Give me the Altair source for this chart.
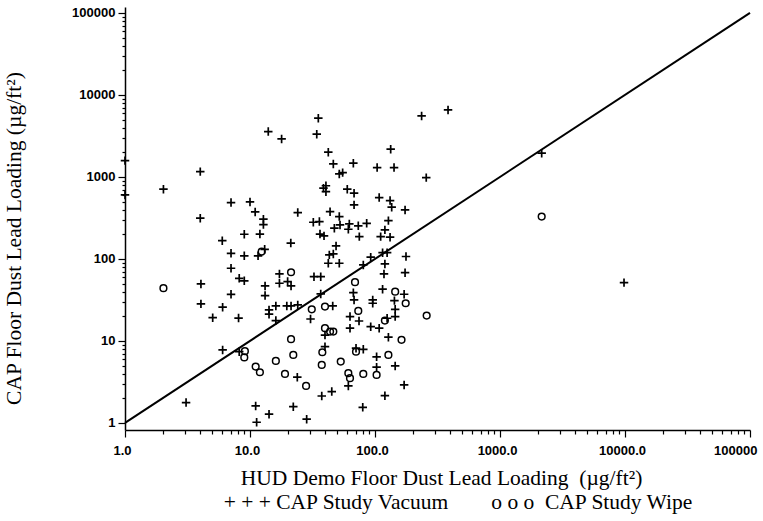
import altair as alt
import pandas as pd

# CAP Study Vacuum (x = HUD Demo loading, y = CAP loading), ug/ft^2
vac_x = [1.0, 1.0, 2.03, 4.0, 4.0, 7.05, 10.0, 11.0, 6.0, 9.0, 12.0, 7.05, 9.0, 14.0, 17.9,
         12.8, 12.8, 24.1, 21.2, 13.1, 11.6, 7.05, 8.2, 9.0, 4.05, 7.05, 4.05, 6.04, 5.03, 8.1,
         17.2, 17.2, 20.0, 21.3, 13.2, 13.2, 14.2, 14.2, 16.1, 19.7, 21.3, 24.1, 16.1, 6.04, 8.2,
         23.9, 11.1, 14.2, 22.2, 11.3, 3.08,
         35.2, 34.2, 42.3, 133.5, 46.4, 67.1, 104, 142, 51.8, 55.1, 38.7, 40.5, 40.5, 60, 68, 68,
         108, 132, 136, 174, 43.7, 51.8, 128, 32.1, 35.9, 52.5, 62.3, 73.5, 85.8, 47.3, 61.2, 120,
         36.3, 39.1, 74.9, 111, 132, 48.8, 43.1, 46.4, 92.4, 115, 125, 177, 236, 384, 257,
         42.3, 51.8, 80.6, 120, 118, 174, 32.5, 36.8, 36.8, 67.1, 68, 115, 171, 143, 95.9, 95.9,
         30.5, 45.9, 63.1, 63.1, 74.5, 92.4, 108, 125, 145, 145, 128, 39.8, 39.8, 70.5, 80.6, 103,
         103, 145, 61.2, 171, 37.5, 45.1, 120, 79.8, 28.4, 2155, 9820]
vac_y = [1580, 603, 708, 1160, 314, 486, 495, 374, 167, 200, 201, 117, 109, 3570, 2905,
         305, 262, 367, 156, 131, 109, 77, 58, 54, 49.6, 37, 28.3, 25.8, 19.2, 19.0,
         65.6, 50.5, 52.9, 46.9, 46.9, 35.7, 23.9, 21.2, 26.7, 26.7, 26.7, 27.5, 17.7, 7.77, 7.4,
         3.61, 1.61, 1.28, 1.58, 1.02, 1.77,
         5200, 3320, 2000, 2180, 1440, 1470, 1300, 1300, 1088, 1128, 730, 780, 660, 708, 633, 456,
         560, 514, 427, 396, 377, 328, 293, 280, 285, 260, 267, 253, 272, 237, 230, 226,
         201, 191, 187, 187, 184, 144, 112, 115, 105, 119, 119, 107, 5540, 6560, 980,
         88.6, 88.6, 84.5, 86.9, 65.6, 68, 60.8, 60.8, 37.4, 38.8, 31.6, 42.7, 37.1, 31, 31.6, 28.8,
         18.5, 26.7, 19.8, 14.3, 17.5, 14.9, 14.3, 18.9, 19.8, 24.3, 11.1, 11.8, 8.5, 8.15, 7.9, 6.4,
         4.78, 4.96, 2.83, 2.91, 2.13, 2.41, 2.15, 1.55, 1.11, 1945, 51.4]

# CAP Study Wipe
wipe_x = [2.03, 12.4, 21.3, 9.1, 9.0, 11.1, 12.0, 16.1, 21.3, 22.2, 19.05, 28.1, 69.2, 145, 176,
          31.2, 39.8, 73.5, 120, 163, 39.8, 43.7, 46.4, 37.9, 37.5, 53.2, 70.5, 128, 61.2, 63.1,
          80.6, 103, 259, 2155]
wipe_y = [44, 123, 68.8, 7.5, 6.3, 4.86, 4.15, 5.7, 10.5, 6.75, 3.96, 2.83, 52, 39.9, 28.8,
          24.3, 26.2, 23.2, 17.7, 10.3, 14.3, 13, 13, 7.28, 5.1, 5.6, 7.4, 6.75, 4.04, 3.51,
          3.96, 3.85, 20.4, 328]

line_x = [1, 100000]
line_y = [1, 100000]

decades = [1, 10, 100, 1000, 10000, 100000]
tick_vals = [m * d for d in decades[:-1] for m in range(1, 10)] + [100000]

legend_text = ["+ + + CAP Study Vacuum\u00a0\u00a0\u00a0\u00a0\u00a0\u00a0\u00a0\u00a0o o o\u00a0\u00a0CAP Study Wipe"]

vac = pd.DataFrame({"x": vac_x, "y": vac_y})
wipe = pd.DataFrame({"x": wipe_x, "y": wipe_y})
line = pd.DataFrame({"x": line_x, "y": line_y})

is_major = "abs(log(datum.value)/LN10 - round(log(datum.value)/LN10)) < 0.001"

xscale = alt.Scale(type="log", domain=[1, 100000], nice=False)
yscale = alt.Scale(type="log", domain=[0.82, 118000], nice=False)

xaxis = alt.Axis(
    values=tick_vals,
    labelExpr=is_major + " ? (datum.value >= 100000 ? '100000' : format(datum.value, '.1f')) : ''",
    labelOverlap=False,
    tickSize={"condition": {"test": is_major, "value": 7}, "value": 4},
    labelAlign={"condition": {"test": "datum.value >= 100000", "value": "right"}, "value": "center"},
    labelOffset={"condition": {"test": "datum.value >= 100000", "value": 7}, "value": -3},
    labelPadding=7,
    title="HUD Demo Floor Dust Lead Loading\u00a0\u00a0(µg/ft²)",
    titlePadding=10,
    titleX=316,
)
yaxis = alt.Axis(
    values=tick_vals,
    labelExpr=is_major + " ? format(datum.value, 'd') : ''",
    labelOverlap=False,
    tickSize={"condition": {"test": is_major, "value": 7}, "value": 3},
    labelPadding=3,
    title="CAP Floor Dust Lead Loading (µg/ft²)",
    titleX=-100,
    titleY=231,
)

plus_path = "M-1,0L1,0M0,-1L0,1"

pts_v = alt.Chart(vac).mark_point(
    shape=plus_path, filled=False, stroke="black", strokeWidth=1.7, size=72, opacity=1
).encode(x=alt.X("x:Q", scale=xscale, axis=xaxis), y=alt.Y("y:Q", scale=yscale, axis=yaxis))

pts_w = alt.Chart(wipe).mark_point(
    shape="circle", filled=False, stroke="black", strokeWidth=1.5, size=45, opacity=1
).encode(x=alt.X("x:Q", scale=xscale), y=alt.Y("y:Q", scale=yscale))

diag = alt.Chart(line).mark_line(color="black", strokeWidth=2).encode(
    x=alt.X("x:Q", scale=xscale), y=alt.Y("y:Q", scale=yscale)
)

legend = alt.Chart(pd.DataFrame({"t": legend_text})).mark_text(
    font="Liberation Serif", fontSize=21.5, color="black", align="center", baseline="middle"
).encode(text="t:N", x=alt.value(333), y=alt.value(496))

chart = alt.layer(diag, pts_w, pts_v, legend).properties(
    width=625, height=423,
    autosize=alt.AutoSizeParams(type="none"),
    padding={"left": 125, "top": 7, "right": 13, "bottom": 91},
).configure_view(stroke=None).configure_axis(
    grid=False,
    domainColor="black", domainWidth=1.5,
    tickColor="black", tickWidth=1.2,
    labelFont="Liberation Sans", labelFontWeight="bold", labelFontSize=13, labelColor="black",
    titleFont="Liberation Serif", titleFontWeight="normal", titleFontSize=21.5, titleColor="black",
)

chart.save("out.html", embed_options={"renderer": "svg", "actions": False})
